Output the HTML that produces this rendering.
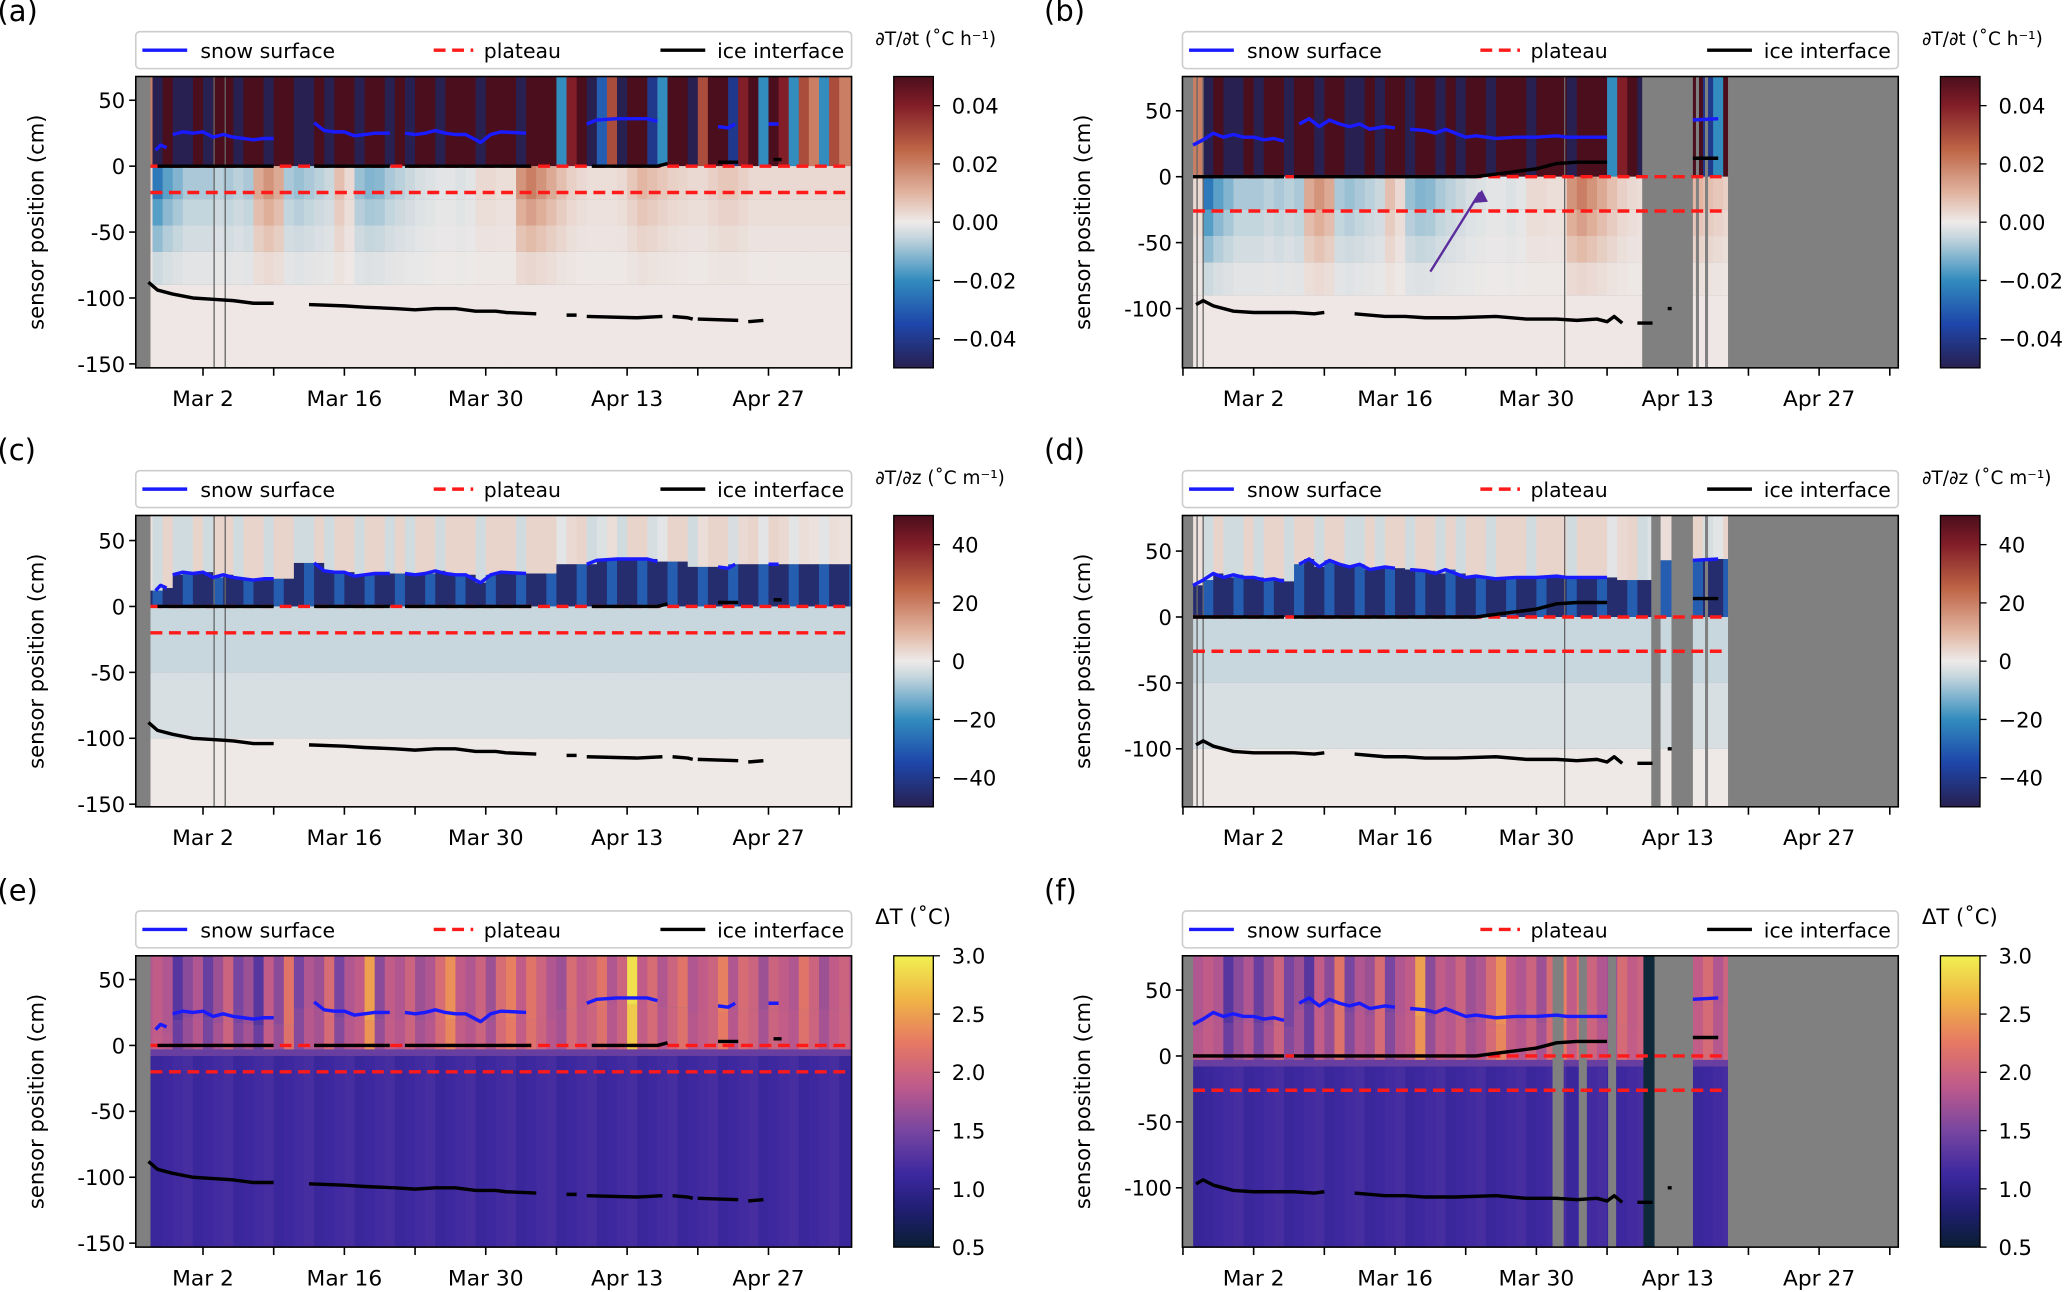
<!DOCTYPE html>
<html><head><meta charset="utf-8"><style>
html,body{margin:0;padding:0;background:#fff}
svg{display:block}
text{font-family:"DejaVu Sans","Liberation Sans",sans-serif;fill:#000}
</style></head><body>
<svg id="fig" width="2067" height="1292" viewBox="0 0 1568 980" xmlns="http://www.w3.org/2000/svg"></svg>
<script>
// ---- data (days relative to Mar 2) ----
const tickLabels = ["Mar 2","Mar 16","Mar 30","Apr 13","Apr 27"];
const tickDays = [0,14,28,42,56];
const heatRate = [-0.05,0.05,-0.05,-0.05,0.05,-0.05,0.05,0.05,-0.05,0.05,0.05,-0.05,0.05,0.05,-0.05,-0.05,0.05,-0.05,0.05,0.05,-0.05,0.05,0.05,-0.05,0.05,-0.05,0.05,0.05,-0.05,0.05,0.05,0.05,-0.05,0.05,0.05,0.05,-0.05,0.05,0.05,0.05,-0.02,0.04,0.05,-0.05,-0.03,0.03,-0.05,0.05,0.05,-0.04,-0.02,0.05,0.05,-0.05,0.03,0.05,0.05,-0.04,0.04,0.05,-0.02,0.05,0.04,-0.02,0.03,0.02,-0.02,0.03,0.02,0.02];
const plumeRate = [-0.03,-0.02,-0.015,-0.01,-0.01,-0.01,-0.008,-0.01,-0.008,-0.01,0.015,0.02,0.015,-0.01,-0.012,-0.01,-0.008,-0.006,0.01,0.004,-0.012,-0.015,-0.014,-0.01,-0.008,-0.006,-0.004,-0.003,-0.002,-0.002,-0.003,-0.002,0.004,0.004,0.003,0.003,0.02,0.025,0.02,0.015,0.01,0.006,0.004,0.003,0.003,0.003,0.004,0.008,0.012,0.01,0.008,0.006,0.005,0.004,0.004,0.006,0.008,0.008,0.006,0.004,0.004,0.004,0.004,0.004,0.004,0.004,0.004,0.004,0.004,0.004];
const topDeltaT = [1.9,1.8,1.3,1.6,1.8,1.4,1.7,2.0,1.5,1.7,1.3,1.9,1.6,2.2,1.5,1.8,1.7,2.1,1.5,1.8,1.9,2.5,1.6,1.9,1.8,2.0,1.7,1.8,2.1,2.4,1.9,1.8,2.0,1.7,2.1,2.3,1.9,2.2,2.0,1.8,1.7,2.1,1.9,2.0,2.2,1.8,2.0,2.9,1.9,2.1,1.8,2.0,2.2,1.8,1.9,2.0,2.3,1.8,2.1,2.0,1.7,2.0,1.9,1.8,2.2,2.0,1.7,1.9,2.0,1.8];
const startDay = -5;
const surfA = [[-4.7,12],[-4.2,16],[-3.6,14],null,[-3,24],[-2,26],[-1,25],[0,26],[1,22],[2,24],[3,22],[4,21],[5,20],[6,21],[7,21],null,[11,33],[12,27],[13,26],[14,26],[15,23],[16,24],[17,25],[18.5,25],null,[20,25],[21,24],[22,25],[23,27],[24,25],[25,24],[26,24],[27,20],[27.5,18],[28.5,24],[29.5,26],[32,25],null,[38,32],[39,35],[41,36],[44,36],[45,34],null,[51,30],[52,29],[52.7,32],null,[56,32],[57,32]];
const iceTopA = [[-4.5,0],[7,0],null,[11,0],[18.5,0],null,[20,0],[32.5,0],null,[38.5,0],[45,0],[46,2],null,[51,3],[53,3],null,[56.5,5],[57.3,5]];
const iceBotA = [[-5.4,-88],[-4.5,-94],[-3,-97],[-1,-100],[1,-101],[3,-102],[5,-104],[7,-104],null,[10.5,-105],[14,-106],[16,-107],[19,-108],[21,-109],[23,-108],[25,-108],[27,-110],[29,-110],[30,-111],[33,-112],null,[36,-113],[37,-113],null,[38,-114],[43,-115],[45.5,-114],null,[46.5,-114],[48,-115],[48.5,-116],null,[49,-116],[53,-117],null,[54,-118],[55.5,-117]];
const surfB = [[-6,24],[-5,28],[-4,33],[-3,30],[-2,32],[-1,30],[0,30],[1,28],[2,29],[3,27],null,[4.5,40],[5.5,44],[6.5,38],[7.5,43],[8.5,40],[9.5,38],[10.5,40],[11.5,36],[13,38],[14,37],null,[15.5,36],[17,35],[18,33],[19,36],[20,33],[21,30],[22,31],[24,29],[26,30],[28,30],[30,31],[31,30],[33,30],[35,30],null,[36.5,28],null,[43.5,43],[46,44]];
const iceTopB = [[-6,0],[3,0],null,[4,0],[22,0],[24,2],[26,4],[28,6],[30,10],[32,11],[35,11],null,[36.5,12],null,[43.5,14],[46,14]];
const iceBotB = [[-5.7,-97],[-5,-94],[-4,-98],[-2,-102],[0,-103],[2,-103],[4,-103],[6,-104],[7,-103],null,[10,-104],[13,-106],[15,-106],[17,-107],[20,-107],[24,-106],[27,-108],[30,-108],[32,-109],[34,-108],[35,-110],[35.7,-106],[36.5,-111],null,[38,-111],[39.5,-111],null,[41,-100],[41.4,-100]];
const panels = [
 {id:"a",L:103,T:58,y0:126,x0:154,sym:0,kind:"rate",lbl:"(a)",lx:-2},
 {id:"b",L:897,T:58,y0:134,x0:951,sym:1,kind:"rate",lbl:"(b)",lx:792},
 {id:"c",L:103,T:391,y0:460,x0:154,sym:0,kind:"grad",lbl:"(c)",lx:-2},
 {id:"d",L:897,T:391,y0:468,x0:951,sym:1,kind:"grad",lbl:"(d)",lx:792},
 {id:"e",L:103,T:725,y0:793,x0:154,sym:0,kind:"dT",lbl:"(e)",lx:-2},
 {id:"f",L:897,T:725,y0:801,x0:951,sym:1,kind:"dT",lbl:"(f)",lx:792}];
const W=543,H=221,PXD=7.66,PXC=1.0;
const NS="http://www.w3.org/2000/svg";
const svg=document.getElementById("fig");
function el(tag,attrs,parent){const e=document.createElementNS(NS,tag);for(const k in attrs)e.setAttribute(k,attrs[k]);(parent||svg).appendChild(e);return e;}
function lerp(a,b,t){return a+(b-a)*t}
function cmap(stops,t){t=Math.max(0,Math.min(1,t));for(let i=1;i<stops.length;i++){if(t<=stops[i][0]){const s=stops[i-1],e=stops[i];const u=(t-s[0])/(e[0]-s[0]);return `rgb(${Math.round(lerp(s[1][0],e[1][0],u))},${Math.round(lerp(s[1][1],e[1][1],u))},${Math.round(lerp(s[1][2],e[1][2],u))})`;}}return "#000";}
const balance=[[0,[40,32,80]],[0.15,[30,70,170]],[0.3,[50,140,190]],[0.45,[200,215,222]],[0.5,[238,234,233]],[0.6,[225,180,160]],[0.75,[190,100,70]],[0.9,[130,30,40]],[1,[75,14,28]]];
const plasma=[[0,[10,30,50]],[0.12,[30,30,110]],[0.25,[60,40,160]],[0.4,[120,70,160]],[0.55,[190,90,140]],[0.7,[230,120,100]],[0.85,[240,180,70]],[1,[240,240,80]]];
function rateCol(v){return cmap(balance,(v+0.05)/0.1)}
function gradCol(v){return cmap(balance,(v+50)/100)}
function dtCol(v){return cmap(plasma,(v-0.5)/2.5)}

panels.forEach(p=>{
 const g=el("g",{});
 const X=d=>p.x0+d*PXD, Y=c=>p.y0-c*PXC;
 const bot=p.T+H, right=p.L+W;
 const clipId="clip"+p.id;
 const cp=el("clipPath",{id:clipId},g);el("rect",{x:p.L,y:p.T,width:W,height:H},cp);
 const hm=el("g",{"clip-path":`url(#${clipId})`},g);
 
 
 el("rect",{x:p.L,y:p.T,width:W,height:H,fill:"#808080"},hm);
 const dStart=p.sym? -6 : -5.2;
 const dEnd=p.sym? (p.kind==="grad"?39.3:(p.kind==="dT"?38.6:38.4)) : 64.5;
 const surfArr=p.sym?surfB:surfA;
 function surfAt(d){let best=null,bd=1e9;surfArr.forEach(q=>{if(q&&Math.abs(q[0]-d)<bd){bd=Math.abs(q[0]-d);best=q[1];}});return best==null?25:best;}
 function drawCol(d0,d1,idx){
  const x=X(d0),w=X(d1)-x+0.6;
  const hv=heatRate[(idx+70)%70], pv=plumeRate[(idx+70)%70], tv=topDeltaT[(idx+70)%70];
  const s=surfAt(d0+0.5);
  if(p.kind==="rate"){
   el("rect",{x,y:p.T,width:w,height:Y(0)-p.T,fill:rateCol(hv)},hm);
   const layers=[[0,-25,0.8],[-25,-45,0.55],[-45,-65,0.35],[-65,-90,0.15]];
   layers.forEach(L=>el("rect",{x,y:Y(L[0]),width:w,height:Y(L[1])-Y(L[0]),fill:rateCol(pv*L[2])},hm));
   el("rect",{x,y:Y(-90),width:w,height:bot-Y(-90),fill:"#eee7e5"},hm);
  } else if(p.kind==="grad"){
   el("rect",{x,y:p.T,width:w,height:Y(s)-p.T,fill:gradCol(hv*80)},hm);
   el("rect",{x,y:Y(s),width:w,height:Y(0)-Y(s),fill:gradCol(idx%3===0?-30:-45)},hm);
   el("rect",{x,y:Y(0),width:w,height:Y(-50)-Y(0),fill:gradCol(-5)},hm);
   el("rect",{x,y:Y(-50),width:w,height:Y(-100)-Y(-50),fill:gradCol(-3)},hm);
   el("rect",{x,y:Y(-100),width:w,height:bot-Y(-100),fill:"#eee8e6"},hm);
  } else {
   el("rect",{x,y:p.T,width:w,height:Y(s-5)-p.T,fill:dtCol(tv)},hm);
   el("rect",{x,y:Y(s-5),width:w,height:Y(-3)-Y(s-5),fill:dtCol(tv*0.85+0.3)},hm);
   el("rect",{x,y:Y(-3),width:w,height:Y(-8)-Y(-3),fill:dtCol(1.4)},hm);
   el("rect",{x,y:Y(-8),width:w,height:bot-Y(-8),fill:dtCol(1.1+(idx%4)*0.03)},hm);
  }
 }
 for(let d=Math.floor(dStart);d<dEnd;d++){
  const a=Math.max(d,dStart),b=Math.min(d+1,dEnd);
  drawCol(a,b,d-startDay);
 }
 if(p.sym){
  if(p.kind==="grad"){drawCol(40.3,41.3,45);}
  for(let d=43.5;d<47;d++){drawCol(d,Math.min(d+1,46.9),Math.floor(d)-startDay);}
  const grays = p.kind==="rate"?[[43.8,44.1],[44.7,45.0]]:(p.kind==="grad"?[[44.7,45.0]]:[[29.6,30.7],[32.2,33.0],[35.1,35.9],[39.7,43.5]]);
  grays.forEach(r=>el("rect",{x:X(r[0]),y:p.T,width:X(r[1])-X(r[0]),height:H,fill:"#808080"},hm));
  if(p.kind==="dT") el("rect",{x:X(38.6),y:p.T,width:X(39.7)-X(38.6),height:H,fill:"#0e2a3a"},hm);
  el("rect",{x:p.L,y:p.T,width:X(-6)-p.L,height:H,fill:"#808080"},hm);
 } else {
  el("rect",{x:p.L,y:p.T,width:X(-5.2)-p.L,height:H,fill:"#808080"},hm);
 }
 const vl = p.sym?[-5.6,-5.0,30.8]:[1.1,2.2];
 if(p.kind!=="dT") vl.forEach(d=>el("line",{x1:X(d),x2:X(d),y1:p.T,y2:bot,stroke:"#666","stroke-width":1},hm));
 function poly(arr,color,name,wd){let seg=[];const out=[];arr.forEach(q=>{if(q===null){if(seg.length)out.push(seg);seg=[];}else seg.push(q);});if(seg.length)out.push(seg);
  out.forEach(s=>{const pl=el("polyline",{points:s.map(q=>X(q[0]).toFixed(1)+","+Y(q[1]).toFixed(1)).join(" "),fill:"none",stroke:color,"stroke-width":wd||2.6,"stroke-linejoin":"round"},hm);
  
  });}
 const plat2 = p.sym?-26:-20;
 const pEnd = p.sym?46.9:64.5;
 [0,plat2].forEach(c=>{const ln=el("line",{x1:X(p.sym?-6:-5.2),x2:X(pEnd),y1:Y(c),y2:Y(c),stroke:"#ff1a1a","stroke-width":2.6,"stroke-dasharray":"9,5"},hm);
  
  });
 poly(p.sym?surfB:surfA,"#1a1aff","snow-surface-line");
 poly(p.sym?iceTopB:iceTopA,"#000","ice-interface-top");
 poly(p.sym?iceBotB:iceBotA,"#000","ice-interface-bottom");
 if(p.id==="b"){const ar=el("line",{x1:X(17.5),y1:Y(-72),x2:X(22.4),y2:Y(-12),stroke:"#5b2c9c","stroke-width":1.8},g);
  el("polygon",{points:`${X(22.6)},${Y(-10)} ${X(21.6)},${Y(-20)} ${X(23.2)},${Y(-19)}`,fill:"#5b2c9c"},g);}
 el("rect",{x:p.L,y:p.T,width:W,height:H,fill:"none",stroke:"#000","stroke-width":1.2},g);
 const yt = p.sym?[50,0,-50,-100]:[50,0,-50,-100,-150];
 yt.forEach(c=>{el("line",{x1:p.L-5,x2:p.L,y1:Y(c),y2:Y(c),stroke:"#000","stroke-width":1.2},g);
  const t=el("text",{x:p.L-8,y:Y(c)+6,"text-anchor":"end","font-size":16},g);t.textContent=String(c);
  });
 for(let d=-7;d<=63;d+=7){const x=X(d);if(x<p.L-1||x>right+1)continue;el("line",{x1:x,x2:x,y1:bot,y2:bot+6,stroke:"#000","stroke-width":1.2},g);}
 tickDays.forEach((d,i)=>{const t=el("text",{x:X(d),y:bot+29,"text-anchor":"middle","font-size":16.5},g);t.textContent=tickLabels[i];
  });
 const yl=el("text",{x:0,y:0,"text-anchor":"middle","font-size":16,transform:`translate(${p.L-70},${p.T+H/2}) rotate(-90)`},g);yl.textContent="sensor position (cm)";
 
 const pl=el("text",{x:p.lx,y:p.T-42,"font-size":22},g);pl.textContent=p.lbl;
 
 const lg=el("g",{},g);
 el("rect",{x:p.L,y:p.T-34,width:W,height:28,rx:3,fill:"#fff",stroke:"#ccc","stroke-width":1.2},lg);
 const ly=p.T-20;
 el("line",{x1:p.L+5,x2:p.L+39,y1:ly,y2:ly,stroke:"#1a1aff","stroke-width":2.6},lg);
 el("line",{x1:p.L+226,x2:p.L+256,y1:ly,y2:ly,stroke:"#ff1a1a","stroke-width":2.6,"stroke-dasharray":"9,5"},lg);
 el("line",{x1:p.L+398,x2:p.L+432,y1:ly,y2:ly,stroke:"#000","stroke-width":2.6},lg);
 [["snow surface",49],["plateau",224+40],["ice interface",441]].forEach(a=>{const t=el("text",{x:p.L+a[1],y:ly+6,"font-size":15.5},lg);t.textContent=a[0];
  });
 const cbx=p.sym?1472:678, cbw=30;
 const gid="grad"+p.id;const defs=el("defs",{},g);const lgd=el("linearGradient",{id:gid,x1:0,y1:1,x2:0,y2:0},defs);
 const stops=p.kind==="dT"?plasma:balance;
 stops.forEach(s=>el("stop",{offset:s[0],"stop-color":`rgb(${s[1].join(",")})`},lgd));
 const cb=el("rect",{x:cbx,y:p.T,width:cbw,height:H,fill:`url(#${gid})`,stroke:"#000","stroke-width":1},g);
 
 let cticks,cmin,cmax;
 if(p.kind==="rate"){cticks=[["0.04",0.04],["0.02",0.02],["0.00",0],["\u22120.02",-0.02],["\u22120.04",-0.04]];cmin=-0.05;cmax=0.05;}
 else if(p.kind==="grad"){cticks=[["40",40],["20",20],["0",0],["\u221220",-20],["\u221240",-40]];cmin=-50;cmax=50;}
 else {cticks=[["3.0",3],["2.5",2.5],["2.0",2],["1.5",1.5],["1.0",1],["0.5",0.5]];cmin=0.5;cmax=3;}
 cticks.forEach(c=>{const y=p.T+H-(c[1]-cmin)/(cmax-cmin)*H;el("line",{x1:cbx+cbw,x2:cbx+cbw+5,y1:y,y2:y,stroke:"#000"},g);
  const t=el("text",{x:cbx+cbw+14,y:y+6,"font-size":16},g);t.textContent=c[0];});
 const tt=el("text",{x:cbx-14,y:p.T-24,"font-size":16},g);
 tt.textContent=p.kind==="rate"?"\u2202T/\u2202t (\u02DAC h\u207B\u00B9)":(p.kind==="grad"?"\u2202T/\u2202z (\u02DAC m\u207B\u00B9)":"\u0394T (\u02DAC)");
 if(p.kind!=="dT")tt.setAttribute("font-size","14");
 
});
</script>
</body></html>
